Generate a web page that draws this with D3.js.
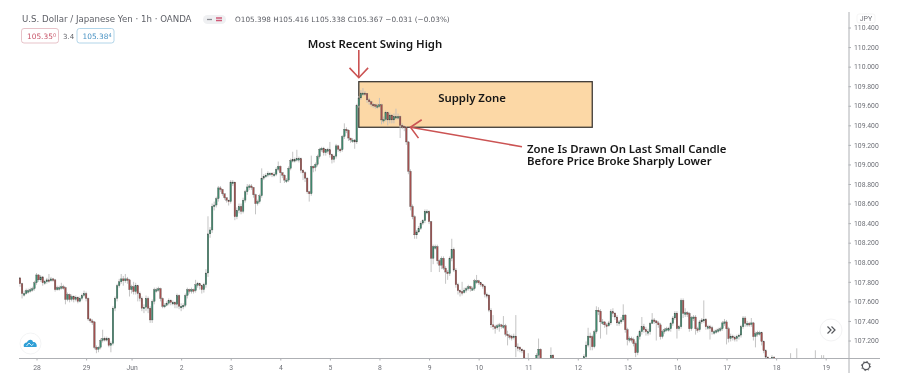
<!DOCTYPE html>
<html>
<head>
<meta charset="utf-8">
<script src="https://cdn.jsdelivr.net/npm/d3@7"></script>
<style>
    html, body { margin: 0; padding: 0; background: #fff; }
    svg { display: block; }
    .marks { filter: blur(0.45px); }
    .soft { filter: blur(0.3px); }
    text { font-family: "Noto Sans", sans-serif; }
    .head { font-family: "DejaVu Sans", sans-serif; fill: #5d5f66; }
    .axis text { font-family: "Roboto", sans-serif; font-size: 6.8px; fill: #6f7178; }
    .axis path, .axis line { stroke: #aeb0b4; }
    .note { font-weight: 600; font-size: 11.4px; fill: #161616; }
</style>
</head>
<body>
<svg id="chart" width="900" height="387"></svg>
<script>

// Hourly closes. 106.90 = below the visible range
const closes = [
    107.78,107.68,107.68,107.71,107.71,107.72,107.73,107.79,107.87,107.82,
    107.85,107.79,107.80,107.82,107.81,107.83,107.82,107.72,107.74,107.74,
    107.75,107.74,107.62,107.67,107.62,107.65,107.62,107.64,107.60,107.63,
    107.66,107.68,107.63,107.42,107.40,107.39,107.13,107.11,107.13,107.20,
    107.22,107.21,107.22,107.15,107.17,107.53,107.63,107.76,107.80,107.83,
    107.81,107.83,107.82,107.72,107.75,107.70,107.76,107.68,107.63,107.53,
    107.54,107.63,107.53,107.41,107.60,107.72,107.72,107.73,107.63,107.55,
    107.56,107.58,107.61,107.59,107.59,107.57,107.66,107.55,107.55,107.56,
    107.66,107.72,107.71,107.72,107.71,107.77,107.78,107.76,107.72,107.77,
    107.89,108.29,108.33,108.57,108.585,108.65,108.76,108.745,108.70,108.66,
    108.635,108.62,108.82,108.82,108.465,108.53,108.57,108.52,108.635,108.72,
    108.77,108.78,108.765,108.69,108.60,108.62,108.68,108.86,108.88,108.89,
    108.91,108.91,108.90,108.90,108.95,108.98,108.915,108.89,108.84,108.84,
    108.96,109.04,109.05,109.05,109.06,109.06,108.94,108.915,108.86,108.72,
    108.70,108.98,108.97,109.00,109.08,109.155,109.165,109.12,109.15,109.15,
    109.10,109.05,109.085,109.19,109.155,109.15,109.285,109.36,109.35,109.27,
    109.25,109.25,109.23,109.60,109.68,109.73,109.73,109.725,109.66,109.64,
    109.615,109.61,109.60,109.60,109.61,109.455,109.46,109.53,109.455,109.505,
    109.455,109.49,109.49,109.49,109.40,109.39,109.38,109.23,108.93,108.57,
    108.465,108.28,108.31,108.345,108.40,108.425,108.52,108.52,108.415,108.04,
    108.16,108.16,108.015,107.97,108.04,107.94,107.90,107.885,108.04,108.13,
    107.92,107.77,107.71,107.70,107.69,107.715,107.73,107.75,107.73,107.73,
    107.81,107.81,107.79,107.77,107.755,107.67,107.665,107.51,107.36,107.34,
    107.33,107.35,107.36,107.35,107.35,107.265,107.25,107.24,107.23,107.245,
    107.135,107.13,107.11,107.10,107.02,106.90,106.90,106.90,106.90,106.90,
    107.05,107.11,106.95,106.90,106.90,106.90,106.90,107.05,106.95,106.90,
    106.90,106.90,106.90,106.90,106.90,106.90,106.90,106.90,106.90,106.90,
    106.90,106.90,106.90,107.034,107.153,107.245,107.24,107.136,107.29,107.51,
    107.50,107.39,107.39,107.36,107.35,107.38,107.494,107.48,107.44,107.38,
    107.39,107.41,107.46,107.31,107.21,107.22,107.21,107.17,107.075,107.24,
    107.29,107.34,107.31,107.29,107.29,107.375,107.41,107.40,107.38,107.36,
    107.24,107.29,107.31,107.32,107.32,107.375,107.43,107.48,107.32,107.34,
    107.61,107.477,107.484,107.477,107.32,107.436,107.44,107.32,107.31,107.39,
    107.41,107.416,107.34,107.34,107.33,107.29,107.29,107.30,107.31,107.32,
    107.38,107.39,107.32,107.22,107.245,107.23,107.22,107.24,107.255,107.34,
    107.43,107.375,107.375,107.37,107.38,107.24,107.27,107.28,107.28,107.19,
    107.095,107.03,106.90,106.90,107.03,106.90,106.90,106.90,106.90,106.90,
    106.90,106.90,106.90,106.90,106.90,106.90,106.90,106.90,106.90,106.90,
    106.90,106.90,106.90,106.90,106.90,106.90,106.90,106.90,106.90,106.90
];

const highs = [
    107.85,107.79,107.71,107.73,107.73,107.74,107.75,107.81,107.89,107.88,
    107.87,107.86,107.82,107.84,107.88,107.85,107.84,107.83,107.76,107.76,
    107.79,107.77,107.75,107.69,107.68,107.67,107.66,107.66,107.65,107.65,
    107.68,107.71,107.70,107.64,107.43,107.42,107.40,107.15,107.14,107.22,
    107.31,107.24,107.24,107.23,107.19,107.55,107.65,107.78,107.83,107.88,
    107.86,107.88,107.85,107.83,107.77,107.80,107.79,107.77,107.70,107.65,
    107.57,107.66,107.65,107.55,107.62,107.74,107.74,107.75,107.74,107.64,
    107.58,107.60,107.63,107.62,107.61,107.60,107.68,107.67,107.58,107.58,
    107.68,107.74,107.73,107.74,107.73,107.82,107.80,107.79,107.77,107.79,
    107.93,108.47,108.36,108.60,108.62,108.67,108.78,108.78,108.75,108.70,
    108.66,108.64,108.84,108.84,108.82,108.56,108.60,108.60,108.66,108.74,
    108.80,108.80,108.80,108.77,108.70,108.64,108.70,108.96,108.90,108.91,
    108.93,108.92,108.92,108.92,108.97,109.03,108.99,108.92,108.90,108.86,
    108.98,109.06,109.13,109.07,109.15,109.08,109.07,108.95,108.93,108.87,
    108.73,109.09,108.99,109.02,109.10,109.17,109.18,109.18,109.16,109.17,
    109.23,109.11,109.10,109.21,109.20,109.17,109.30,109.42,109.38,109.36,
    109.27,109.27,109.26,109.62,109.70,109.76,109.78,109.75,109.73,109.68,
    109.65,109.63,109.62,109.62,109.68,109.62,109.49,109.55,109.54,109.53,
    109.51,109.52,109.57,109.52,109.50,109.42,109.40,109.39,109.24,108.95,
    108.59,108.48,108.33,108.37,108.42,108.44,108.54,108.54,108.53,108.42,
    108.18,108.18,108.18,108.03,108.06,108.06,107.96,107.92,108.06,108.24,
    108.15,107.94,107.79,107.72,107.80,107.74,107.75,107.77,107.76,107.75,
    107.83,107.87,107.82,107.80,107.78,107.77,107.69,107.67,107.53,107.46,
    107.36,107.37,107.38,107.37,107.45,107.37,107.30,107.27,107.26,107.27,
    107.46,107.17,107.14,107.12,107.11,106.95,107.07,106.95,106.95,106.95,
    107.07,107.22,107.12,106.95,106.95,106.95,106.95,107.13,107.06,106.95,
    106.95,106.95,106.95,106.95,106.95,106.95,106.95,106.95,106.95,106.95,
    106.95,106.95,106.95,107.06,107.19,107.33,107.28,107.26,107.31,107.55,
    107.54,107.52,107.42,107.40,107.38,107.40,107.52,107.53,107.49,107.46,
    107.41,107.44,107.57,107.47,107.33,107.24,107.24,107.23,107.19,107.26,
    107.31,107.44,107.37,107.34,107.32,107.39,107.48,107.43,107.41,107.40,
    107.38,107.31,107.33,107.34,107.34,107.39,107.45,107.50,107.50,107.36,
    107.63,107.63,107.53,107.50,107.49,107.45,107.46,107.46,107.34,107.41,
    107.43,107.61,107.43,107.36,107.36,107.35,107.31,107.32,107.33,107.34,
    107.40,107.42,107.41,107.34,107.27,107.26,107.25,107.26,107.27,107.36,
    107.45,107.45,107.40,107.39,107.43,107.39,107.29,107.30,107.30,107.29,
    107.20,107.11,107.04,106.95,107.05,107.04,106.95,106.95,106.95,106.95,
    106.95,106.95,106.95,107.07,106.95,106.95,107.12,106.95,106.95,106.95,
    106.95,106.95,106.95,106.95,106.95,107.10,106.95,106.95,107.05,107.05
];

const lows = [
    107.75,107.63,107.65,107.67,107.68,107.69,107.70,107.71,107.77,107.80,
    107.80,107.76,107.77,107.78,107.79,107.80,107.80,107.70,107.71,107.71,
    107.72,107.72,107.57,107.60,107.59,107.60,107.59,107.60,107.58,107.59,
    107.61,107.64,107.60,107.40,107.38,107.36,107.11,107.07,107.08,107.11,
    107.18,107.19,107.19,107.13,107.08,107.15,107.50,107.60,107.74,107.78,
    107.76,107.79,107.78,107.65,107.68,107.67,107.67,107.60,107.60,107.50,
    107.48,107.50,107.48,107.38,107.38,107.57,107.69,107.70,107.60,107.53,
    107.53,107.55,107.56,107.56,107.56,107.53,107.53,107.52,107.50,107.52,
    107.54,107.63,107.68,107.68,107.68,107.69,107.74,107.72,107.68,107.69,
    107.74,107.85,108.25,108.30,108.53,108.56,108.62,108.72,108.68,108.64,
    108.61,108.58,108.60,108.78,108.43,108.44,108.50,108.49,108.50,108.61,
    108.69,108.74,108.74,108.66,108.49,108.58,108.60,108.66,108.84,108.86,
    108.87,108.88,108.87,108.87,108.88,108.93,108.81,108.86,108.81,108.81,
    108.82,108.94,109.02,109.02,109.03,109.02,108.91,108.84,108.82,108.70,
    108.62,108.68,108.92,108.93,108.98,109.06,109.13,109.09,109.09,109.11,
    109.07,109.01,109.02,109.06,109.13,109.12,109.13,109.26,109.32,109.24,
    109.22,109.22,109.16,109.21,109.58,109.66,109.70,109.70,109.63,109.61,
    109.59,109.58,109.57,109.57,109.58,109.41,109.42,109.44,109.40,109.42,
    109.42,109.42,109.46,109.46,109.27,109.36,109.34,109.20,108.90,108.53,
    108.44,108.24,108.24,108.30,108.33,108.38,108.40,108.49,108.39,107.90,
    107.98,108.13,107.98,107.90,107.93,107.92,107.78,107.82,107.86,108.01,
    107.90,107.74,107.67,107.65,107.66,107.68,107.69,107.71,107.70,107.71,
    107.71,107.78,107.77,107.75,107.73,107.64,107.63,107.49,107.33,107.31,
    107.27,107.31,107.29,107.32,107.32,107.24,107.15,107.21,107.20,107.21,
    107.03,107.09,107.08,107.07,106.97,106.85,106.85,106.85,106.85,106.85,
    106.85,107.00,106.90,106.85,106.85,106.85,106.85,106.95,106.90,106.85,
    106.85,106.85,106.85,106.85,106.85,106.85,106.85,106.85,106.85,106.85,
    106.85,106.85,106.85,106.88,107.00,107.13,107.10,107.10,107.12,107.27,
    107.46,107.22,107.36,107.33,107.26,107.34,107.36,107.44,107.41,107.35,
    107.35,107.37,107.39,107.28,107.15,107.18,107.18,107.14,107.03,107.05,
    107.21,107.26,107.28,107.25,107.25,107.26,107.37,107.37,107.20,107.33,
    107.21,107.22,107.27,107.29,107.29,107.29,107.35,107.41,107.22,107.30,
    107.32,107.43,107.44,107.44,107.29,107.30,107.40,107.26,107.28,107.29,
    107.37,107.38,107.31,107.31,107.21,107.26,107.26,107.27,107.28,107.29,
    107.30,107.35,107.16,107.18,107.19,107.20,107.19,107.19,107.21,107.23,
    107.32,107.34,107.34,107.34,107.34,107.20,107.13,107.24,107.25,107.15,
    107.07,107.00,106.85,106.85,107.00,106.85,106.85,106.85,106.85,106.85,
    106.85,106.85,106.85,106.85,106.85,106.85,106.85,106.85,106.85,106.85,
    106.85,106.85,106.85,106.85,106.85,106.85,106.85,106.85,106.85,106.85
];

const firstOpen = 107.84;

// Axis labels
const priceTicks = [110.4,110.2,110.0,109.8,109.6,109.4,109.2,109.0,108.8,108.6,108.4,108.2,108.0,107.8,107.6,107.4,107.2];
const dayLabels = ["28","29","Jun","2","3","4","5","8","9","10","11","12","15","16","17","18","19"];
const dayBars = [8,32,54,78,102,126,150,174,198,222,246,270,294,318,342,366,390];

// Supply zone and the arrows, in bar / price units
const zoneBars = [164, 277];
const zonePrices = [109.846, 109.38];
const swingArrow = {from: [164, 110.17], to: [164, 109.887]};
const zoneArrow = {from: [243, 109.181], to: [189, 109.38]};

const opens = closes.map((c, i) => i === 0 ? firstOpen : closes[i-1]);

// Dimensions
const plot = {left: 19, right: 848.5, top: 12, bottom: 358};
const svg = d3.select("#chart");

// Scales
const x = d3.scaleLinear().domain([0, 390]).range([20, 825.7]);
const y = d3.scaleLinear().domain([110.4, 107.2]).range([27.5, 340.5]);

svg.append("defs").append("clipPath").attr("id", "plotclip")
    .append("rect")
    .attr("x", plot.left)
    .attr("y", plot.top)
    .attr("width", plot.right - plot.left)
    .attr("height", plot.bottom - plot.top);

// Supply zone, under the candles
svg.append("rect")
    .attr("x", x(zoneBars[0]))
    .attr("y", y(zonePrices[0]))
    .attr("width", x(zoneBars[1]) - x(zoneBars[0]))
    .attr("height", y(zonePrices[1]) - y(zonePrices[0]))
    .attr("fill", "#fcd8a6")
    .attr("stroke", "#3e3a36")
    .attr("stroke-width", 1.3);

// Candles
const marks = svg.append("g").attr("class", "marks").attr("clip-path", "url(#plotclip)");
const bars = d3.range(closes.length);
marks.selectAll(".wick")
    .data(bars)
    .enter()
    .append("line")
    .attr("class", "wick")
    .attr("x1", (i) => x(i))
    .attr("x2", (i) => x(i))
    .attr("y1", (i) => y(highs[i]))
    .attr("y2", (i) => y(lows[i]))
    .attr("stroke", "#bdbdbd")
    .attr("stroke-width", 0.9);
marks.selectAll(".body")
    .data(bars)
    .enter()
    .append("rect")
    .attr("class", "body")
    .attr("x", (i) => x(i) - 0.8)
    .attr("width", 1.6)
    .attr("y", (i) => y(Math.max(opens[i], closes[i])))
    .attr("height", (i) => Math.max(1.6, Math.abs(y(opens[i]) - y(closes[i]))))
    .attr("fill", (i) => closes[i] >= opens[i] ? "#3f8a6f" : "#a34f4e")
    .attr("stroke", "#4a4a48")
    .attr("stroke-width", 0.3);

// Arrows: shaft plus two wings turned off the shaft direction
function drawArrow(arrow, wingLength) {
    const x0 = x(arrow.from[0]), y0 = y(arrow.from[1]);
    const x1 = x(arrow.to[0]), y1 = y(arrow.to[1]);
    const angle = Math.atan2(y0 - y1, x0 - x1);
    const wing = (turn) => [x1 + wingLength*Math.cos(angle+turn), y1 + wingLength*Math.sin(angle+turn)];
    const group = svg.append("g").attr("class", "soft")
        .attr("fill", "none")
        .attr("stroke", "#cb5353")
        .attr("stroke-width", 1.6);
    group.append("path").attr("d", d3.line()([[x0, y0], [x1, y1]]));
    group.append("path").attr("d", d3.line()([wing(-0.76), [x1, y1], wing(0.76)]));
}
drawArrow(swingArrow, 13.5);
drawArrow(zoneArrow, 13.5);

// Annotation text
svg.append("text").attr("class", "note soft")
    .attr("x", 375).attr("y", 47.5).attr("text-anchor", "middle")
    .text("Most Recent Swing High");
svg.append("text").attr("class", "note soft")
    .attr("x", 472).attr("y", 102).attr("text-anchor", "middle")
    .text("Supply Zone");
const zoneNote = svg.append("text").attr("class", "note soft");
zoneNote.append("tspan").attr("x", 527).attr("y", 152.5)
    .text("Zone Is Drawn On Last Small Candle");
zoneNote.append("tspan").attr("x", 527).attr("y", 164.5)
    .text("Before Price Broke Sharply Lower");

// Axes
const axes = svg.append("g").attr("class", "soft");
axes.append("g")
    .attr("class", "axis")
    .attr("transform", `translate(0, ${plot.bottom})`)
    .call(d3.axisBottom(x)
        .tickValues(dayBars)
        .tickFormat((d, i) => dayLabels[i])
        .tickSize(2.5)
        .tickPadding(5))
    .call((g) => g.select(".domain").attr("d", `M${plot.left},0.5H880`));
axes.append("g")
    .attr("class", "axis")
    .attr("transform", `translate(${plot.right}, 0)`)
    .call(d3.axisRight(y)
        .tickValues(priceTicks)
        .tickFormat(d3.format(".3f"))
        .tickSize(2.5)
        .tickPadding(3))
    .call((g) => g.select(".domain").attr("d", `M0.5,${plot.top}V373`));

// JPY unit box
svg.append("rect")
    .attr("x", 857).attr("y", 14).attr("width", 18).attr("height", 9).attr("rx", 2)
    .attr("fill", "#fff").attr("stroke", "#f1f1f1").attr("stroke-width", 0.7);
svg.append("text").attr("class", "soft")
    .attr("x", 866).attr("y", 21).attr("text-anchor", "middle")
    .style("font-family", "Roboto").style("font-size", "7px").attr("fill", "#6f7178")
    .text("JPY");

// Header
const head = svg.append("g").attr("class", "soft");
head.append("text").attr("class", "head")
    .attr("x", 22).attr("y", 22).style("font-size", "8.65px")
    .text("U.S. Dollar / Japanese Yen · 1h · OANDA");
head.append("rect")
    .attr("x", 203).attr("y", 15).attr("width", 23).attr("height", 9).attr("rx", 4.5)
    .attr("fill", "#eff0f2");
head.append("path").attr("d", "M207,19.5H212").attr("stroke", "#8a8c92").attr("stroke-width", 1.3);
head.append("path").attr("d", "M216,18H222M216,20.5H222").attr("stroke", "#d05a78").attr("stroke-width", 1.3);
head.append("text").attr("class", "head")
    .attr("x", 235).attr("y", 22).style("font-size", "7.3px")
    .text("O105.398 H105.416 L105.338 C105.367 −0.031 (−0.03%)");

function pricePill(left, colour, border, digits, last) {
    head.append("rect")
        .attr("x", left).attr("y", 28.5).attr("width", 37).attr("height", 14.5).attr("rx", 2.5)
        .attr("fill", "#fff").attr("stroke", border).attr("stroke-width", 0.9);
    const label = head.append("text").attr("class", "head")
        .attr("x", left + 5.5).attr("y", 38.5)
        .style("font-size", "7.4px").style("fill", colour)
        .text(digits);
    label.append("tspan").attr("dy", -1.5).style("font-size", "5px").text(last);
}
pricePill(21.5, "#c8576b", "#e4bcc3", "105.35", "0");
pricePill(77, "#4a93c4", "#a9d0e6", "105.38", "4");
head.append("text").attr("class", "head")
    .attr("x", 63).attr("y", 38.5).style("font-size", "7px")
    .text("3.4");

// Logo badge
const logo = svg.append("g").attr("class", "soft").attr("transform", "translate(30.5, 343.5)");
logo.append("circle").attr("r", 10.5).attr("fill", "#fff").attr("stroke", "#f0f1f2").attr("stroke-width", 0.8);
logo.append("path")
    .attr("d", "M-6.5,3.5C-7.5,0.5 -5.5,-1 -3.5,-1C-2.5,-4.5 2,-4.5 2.5,-1.5C5,-2 7,1 6,3.5Z")
    .attr("fill", "#2f9fd6");
logo.append("path")
    .attr("d", "M-4,2.5L-1.5,-0.5L1,2L3,0.5")
    .attr("fill", "none").attr("stroke", "#fff").attr("stroke-width", 0.8);

// Scroll button
const scroll = svg.append("g").attr("transform", "translate(831, 330)");
scroll.append("circle").attr("r", 11).attr("fill", "#fff").attr("stroke", "#f3f3f4").attr("stroke-width", 1);
scroll.append("path")
    .attr("d", "M-3.5,-3.5L0,0L-3.5,3.5M0.5,-3.5L4,0L0.5,3.5")
    .attr("fill", "none").attr("stroke", "#55575c").attr("stroke-width", 1.2);

// Settings gear
const gear = svg.append("g").attr("class", "soft").attr("transform", "translate(866, 366)");
gear.append("circle").attr("r", 3.6).attr("fill", "none").attr("stroke", "#55575c").attr("stroke-width", 1.2);
gear.append("circle").attr("r", 4.6).attr("fill", "none").attr("stroke", "#55575c")
    .attr("stroke-width", 1).attr("stroke-dasharray", "1.4 2.2");

</script>
</body>
</html>
